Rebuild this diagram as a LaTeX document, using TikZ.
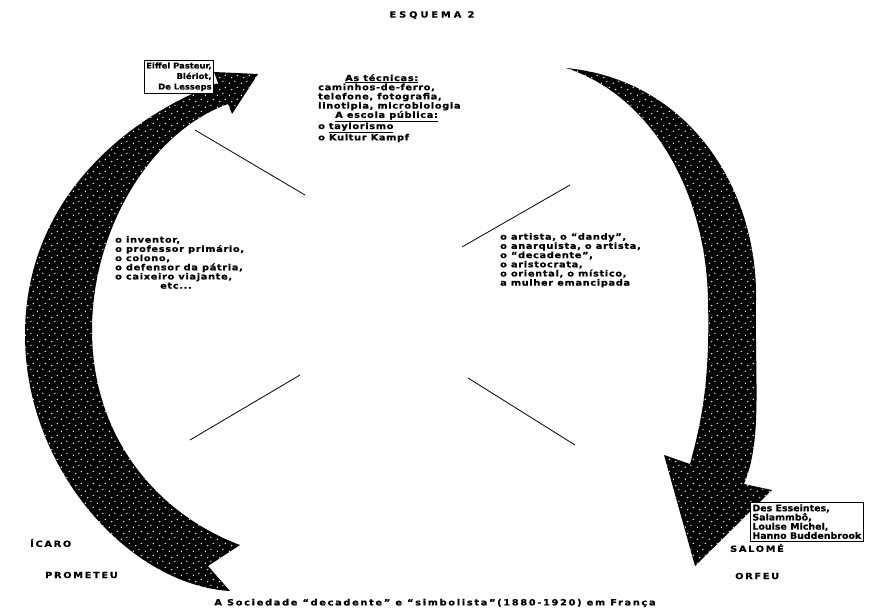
\documentclass[tikz,border=0pt]{standalone}
\usepackage{fontspec}
\setmainfont{DejaVu Sans}
\newfontfamily\fA{DejaVu Sans}[LetterSpace=8, FakeStretch=1.15, FakeBold=0.8]
\newfontfamily\fB{DejaVu Sans}[LetterSpace=20, FakeStretch=1.15, FakeBold=0.8]
\newfontfamily\fT{DejaVu Sans}[LetterSpace=35, FakeStretch=1.15, FakeBold=0.8]
\newfontfamily\fC{DejaVu Sans}[FakeStretch=1.05, FakeBold=0.5]
\usetikzlibrary{patterns.meta}
\tikzdeclarepattern{
  name=whitedots, type=uncolored,
  bounding box={(0,0) and (12pt,12pt)},
  tile size={(12pt,12pt)},
  code={
    \fill (1.5pt,2pt) circle (0.8pt);
    \fill (7.5pt,4pt) circle (0.8pt);
    \fill (4pt,8pt) circle (0.8pt);
    \fill (10pt,10.5pt) circle (0.8pt);
  }
}
\begin{document}
\begin{tikzpicture}[x=1pt,y=-1pt,
  body/.style={font=\fA\bfseries\fontsize{8.5}{9.2}\selectfont, inner sep=0pt, align=left},
  lab/.style={font=\fB\bfseries\fontsize{8.5}{9}\selectfont, inner sep=0pt},
  boxt/.style={draw, fill=white, line width=0.8pt, font=\fC\bfseries\fontsize{8}{10.5}\selectfont, inner sep=2pt},
  bigarrow/.style={fill=black, postaction={pattern={whitedots}, pattern color=white}},
  thin/.style={line width=0.8pt}]
\clip (0,0) rectangle (889,613);
\fill[white] (0,0) rectangle (889,613);

% left arrow (upward)
\path[bigarrow] (230,591) .. controls (130,585) and (25,470) .. (25,335)
  .. controls (25,200) and (125,118) .. (218,83)
  -- (214,72) -- (258,74) -- (232,114) -- (228,104)
  .. controls (150,132) and (92,230) .. (92,330)
  .. controls (92,440) and (160,515) .. (240,545)
  -- (208,566) -- cycle;

% top-left box (over the arrow head)
\node[boxt, align=right, anchor=north east] (names1) at (214,60) {Eiffel Pasteur,\\ Blériot,\\ De Lesseps};

% right arrow (downward)
\path[bigarrow] (566,68) .. controls (690,80) and (758,190) .. (756,300)
  .. controls (755,390) and (762,440) .. (744,484)
  -- (772,490) -- (695,566) -- (664,455) -- (690,464)
  .. controls (702,420) and (710,380) .. (708,300)
  .. controls (706,190) and (650,95) .. cycle;

% thin lines of the X
\coordinate (l1a) at (195,130); \coordinate (l1b) at (305,195);
\coordinate (l2a) at (190,440); \coordinate (l2b) at (300,375);
\coordinate (r1a) at (462,247); \coordinate (r1b) at (570,185);
\coordinate (r2a) at (468,378); \coordinate (r2b) at (575,445);
\draw[thin] (l1a) -- (l1b);
\draw[thin] (l2a) -- (l2b);
\draw[thin] (r1a) -- (r1b);
\draw[thin] (r2a) -- (r2b);

% title
\node[font=\fT\bfseries\fontsize{8.5}{9}\selectfont, inner sep=0pt] (title) at (432,15) {ESQUEMA 2};

% top block
\node[body, anchor=north west] (top) at (318,74) {%
\hspace*{27pt}\underline{As técnicas:}\\
caminhos-de-ferro,\\
telefone, fotografia,\\
linotipia, microbiologia\\
\hspace*{17pt}\underline{A escola pública:}\\
o \underline{taylorismo}\\
o Kultur Kampf};

% left list
\node[body, anchor=north west] (leftlist) at (115,236) {%
o inventor,\\
o professor primário,\\
o colono,\\
o defensor da pátria,\\
o caixeiro viajante,\\
\hspace*{45pt}etc...};

% right list
\node[body, anchor=north west] (rightlist) at (500,233) {%
o artista, o “dandy”,\\
o anarquista, o artista,\\
o “decadente”,\\
o aristocrata,\\
o oriental, o místico,\\
a mulher emancipada};

% bottom-right box
\node[boxt, align=left, anchor=north west, font=\fC\bfseries\fontsize{9}{9.2}\selectfont] (names2) at (750,502) {Des Esseintes,\\ Salammbô,\\ Louise Michel,\\ Hanno Buddenbrook};

% myth labels
\node[lab, anchor=west] (icaro) at (30,543) {ÍCARO};
\node[lab, anchor=west] (prometeu) at (45,575) {PROMETEU};
\node[lab, anchor=west] (salome) at (730,548) {SALOMÉ};
\node[lab, anchor=west] (orfeu) at (735,576) {ORFEU};

% caption
\node[lab] (caption) at (435,603) {A Sociedade “decadente” e “simbolista”(1880-1920) em França};
\end{tikzpicture}
\end{document}
